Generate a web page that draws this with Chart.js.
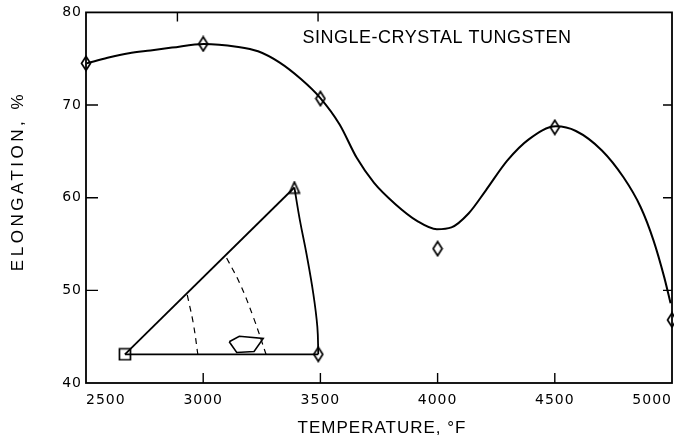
<!DOCTYPE html>
<html><head><meta charset="utf-8">
<script src="https://cdn.jsdelivr.net/npm/chart.js@4"></script>
<style>html,body{margin:0;padding:0;background:#fff}</style>
</head><body>
<canvas id="c" width="674" height="441" style="width:674px;height:441px;display:block"></canvas>
<script>
// ---- data ----
const diamondTemps = [2500, 3000, 3500, 4000, 4500, 5000];
const diamondElong = [74.5, 76.6, 70.7, 54.5, 67.6, 46.8];

const curveTemps = [2503, 2592, 2683, 2775, 2867, 3003, 3142, 3234, 3325, 3417, 3498, 3582, 3655, 3729, 3820, 3912, 3997, 4059, 4132, 4206, 4297, 4389, 4505, 4590, 4701, 4793, 4866, 4921, 4967, 4994];
const curveElong = [74.5, 75.1, 75.6, 75.9, 76.2, 76.6, 76.3, 75.8, 74.6, 72.8, 70.8, 67.9, 64.3, 61.6, 59.3, 57.5, 56.6, 56.8, 58.3, 60.8, 64.0, 66.3, 67.7, 67.2, 65.1, 62.2, 59.0, 55.4, 51.4, 48.6];

const xTicks = [2500, 3000, 3500, 4000, 4500, 5000];
const yTicks = [40, 50, 60, 70, 80];
const topTickTemps = [2890, 3490];

// inset (stereographic triangle) in data coordinates
const insetSquare = [2666, 43.1];
const insetTriangle = [3389, 61.1];
const insetDiamond = [3491, 43.1];
const arcTemps = [3389, 3413, 3441, 3470, 3487, 3491];
const arcElong = [61.1, 57.5, 53.9, 49.6, 46.05, 43.1];
const dash1Temps = [2932, 2958, 2977];
const dash1Elong = [49.5, 46.4, 43.1];
const dash2Temps = [3100, 3157, 3214, 3268];
const dash2Elong = [53.5, 50.7, 47.1, 43.1];
const polyTemps = [3111, 3154, 3256, 3217, 3143, 3111];
const polyElong = [44.45, 45.05, 44.8, 43.4, 43.3, 44.45];

const chartTitle = 'SINGLE-CRYSTAL TUNGSTEN';
const xTitle = 'TEMPERATURE, °F';
const yTitle = 'ELONGATION, %';

// ---- helpers ----
const pts = (xs, ys) => xs.map((x, i) => ({x, y: ys[i]}));

function markerImg(kind) {
  const c = document.createElement('canvas');
  const w = kind === 'diamond' ? 12 : 14, h = kind === 'diamond' ? 17 : 14;
  c.width = w; c.height = h;
  const g = c.getContext('2d');
  g.lineWidth = 1.7; g.strokeStyle = '#000'; g.fillStyle = '#fff';
  g.lineJoin = 'miter';
  g.beginPath();
  if (kind === 'diamond') {
    g.moveTo(w/2, 1.5); g.lineTo(w-1.5, h/2); g.lineTo(w/2, h-1.5); g.lineTo(1.5, h/2);
  } else if (kind === 'square') {
    g.rect(1.5, 1.5, w-3, h-3);
  } else {
    g.moveTo(w/2, 1.5); g.lineTo(w-2, h-1.5); g.lineTo(2, h-1.5);
  }
  g.closePath(); g.fill(); g.stroke();
  return c;
}
const diamond = markerImg('diamond');
const square = markerImg('square');
const triangle = markerImg('triangle');

const FONT = '"Liberation Sans", Arial, sans-serif';
const TICKFONT = '"DejaVu Sans", sans-serif';

const framePlugin = {
  id: 'frame',
  beforeDraw(chart) {
    chart.ctx.letterSpacing = '1px';
  },
  afterDraw(chart) {
    const {ctx, chartArea: a, scales} = chart;
    const xs = scales.x, ys = scales.y;
    ctx.save();
    ctx.strokeStyle = '#000';
    ctx.lineWidth = 1.8;
    ctx.strokeRect(a.left, a.top, a.right - a.left, a.bottom - a.top);
    ctx.lineWidth = 1.4;
    ctx.beginPath();
    xTicks.slice(1, -1).forEach(v => {
      const p = xs.getPixelForValue(v);
      ctx.moveTo(p, a.bottom); ctx.lineTo(p, a.bottom - 10);
    });
    topTickTemps.forEach(v => {
      const p = xs.getPixelForValue(v);
      ctx.moveTo(p, a.top); ctx.lineTo(p, a.top + 9);
    });
    yTicks.slice(1, -1).forEach(v => {
      const p = ys.getPixelForValue(v);
      ctx.moveTo(a.left, p); ctx.lineTo(a.left + 12, p);
      ctx.moveTo(a.right, p); ctx.lineTo(a.right - 9, p);
    });
    ctx.stroke();
    ctx.fillStyle = '#000';
    ctx.textAlign = 'center';
    ctx.textBaseline = 'middle';
    ctx.font = '18px ' + FONT;
    ctx.letterSpacing = '0.5px';
    ctx.fillText(chartTitle, 437, 38.5);
    ctx.font = '17px ' + FONT;
    ctx.letterSpacing = '1px';
    ctx.fillText(xTitle, 382, 428);
    ctx.save();
    ctx.translate(18, 181);
    ctx.rotate(-Math.PI / 2);
    ctx.font = '17px ' + FONT;
    ctx.letterSpacing = '3.5px';
    ctx.fillText(yTitle, 0, 0);
    ctx.restore();
    ctx.restore();
  }
};

const lineDs = (data, extra) => Object.assign({
  data, showLine: true, borderColor: '#000', borderWidth: 1.8,
  pointRadius: 0, pointHoverRadius: 0, fill: false, tension: 0.3
}, extra || {});

const fixPad = s => { s.paddingLeft = 0; s.paddingRight = 0; };

new Chart(document.getElementById('c'), {
  type: 'scatter',
  data: {
    datasets: [
      lineDs(pts(curveTemps, curveElong), {borderWidth: 2, cubicInterpolationMode: 'monotone'}),
      lineDs([{x: insetSquare[0], y: insetSquare[1]}, {x: insetTriangle[0], y: insetTriangle[1]}], {tension: 0}),
      lineDs([{x: insetSquare[0], y: insetSquare[1]}, {x: insetDiamond[0], y: insetDiamond[1]}], {tension: 0}),
      lineDs(pts(arcTemps, arcElong), {tension: 0.4}),
      lineDs(pts(dash1Temps, dash1Elong), {borderWidth: 1.2, borderDash: [6, 5], tension: 0.4}),
      lineDs(pts(dash2Temps, dash2Elong), {borderWidth: 1.2, borderDash: [6, 5], tension: 0.4}),
      lineDs(pts(polyTemps, polyElong), {borderWidth: 1.6, tension: 0}),
      {data: pts(diamondTemps, diamondElong), pointStyle: diamond, pointRadius: 6, showLine: false, clip: false},
      {data: [{x: insetSquare[0], y: insetSquare[1]}], pointStyle: square, pointRadius: 7, showLine: false},
      {data: [{x: insetTriangle[0], y: insetTriangle[1]}], pointStyle: triangle, pointRadius: 7, showLine: false},
      {data: [{x: insetDiamond[0], y: insetDiamond[1]}], pointStyle: diamond, pointRadius: 6, showLine: false}
    ]
  },
  options: {
    responsive: false,
    animation: false,
    devicePixelRatio: 1,
    layout: {autoPadding: false, padding: {top: 11, right: 2, left: 0, bottom: 0}},
    plugins: {legend: {display: false}, tooltip: {enabled: false}},
    events: [],
    scales: {
      x: {
        type: 'linear', min: 2500, max: 5000,
        afterBuildTicks: s => { s.ticks = xTicks.map(v => ({value: v})); },
        afterFit: s => { s.height = 58; fixPad(s); },
        grid: {display: false, drawTicks: false},
        border: {display: false},
        ticks: {align: 'inner', padding: 9, color: '#000', font: {family: TICKFONT, size: 14}, callback: v => String(v), maxRotation: 0, autoSkip: false}
      },
      y: {
        type: 'linear', min: 40, max: 80,
        afterBuildTicks: s => { s.ticks = yTicks.map(v => ({value: v})); },
        afterFit: s => { s.width = 86; },
        grid: {display: false, drawTicks: false},
        border: {display: false},
        ticks: {padding: 4, color: '#000', font: {family: TICKFONT, size: 14}, callback: v => String(v)}
      }
    }
  },
  plugins: [framePlugin]
});
</script>
</body></html>
